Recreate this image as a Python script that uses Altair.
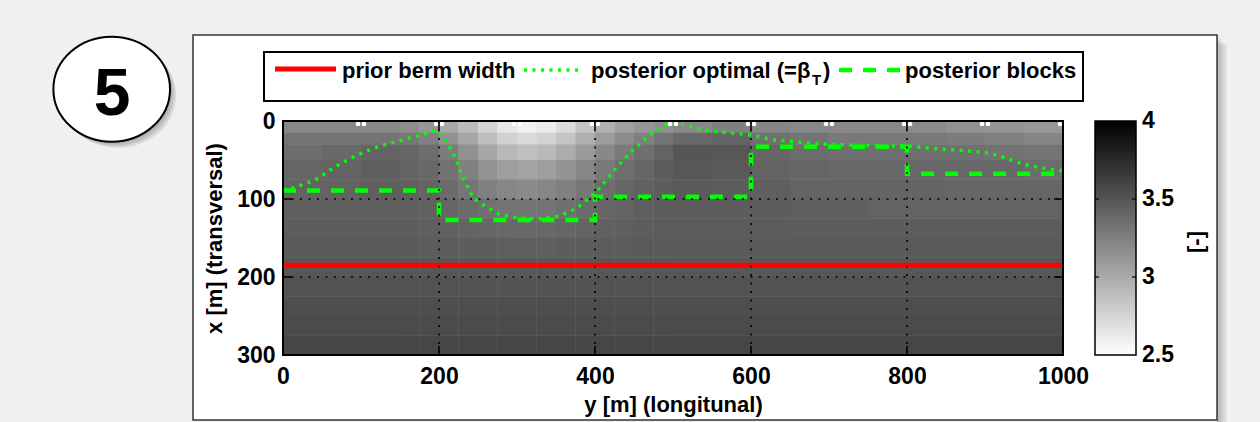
import altair as alt
import pandas as pd

# ---------------- data ----------------
# background field (value in [-]); columns: longitudinal y cells, rows: transversal x cells
y_edges = [0, 50, 100, 150, 175, 200, 225, 250, 275, 300, 325, 350, 375, 400, 425, 450, 475, 500,
           550, 600, 650, 700, 750, 800, 850, 900, 950, 1000]
x_edges = [0, 15, 30, 50, 75, 100, 125, 150, 175, 200, 225, 250, 275, 300]
field_rows = [
    [3.20, 3.20, 3.20, 3.17, 3.12, 3.02, 2.90, 2.76, 2.64, 2.58, 2.62, 2.72, 2.85, 2.97, 3.06, 3.12, 3.16,
     3.20, 3.25, 3.22, 3.20, 3.20, 3.20, 3.18, 3.15, 3.13, 3.11],
    [3.32, 3.32, 3.32, 3.30, 3.25, 3.15, 3.02, 2.88, 2.77, 2.72, 2.76, 2.85, 2.97, 3.08, 3.18, 3.25, 3.32,
     3.39, 3.41, 3.34, 3.32, 3.29, 3.29, 3.29, 3.27, 3.25, 3.22],
    [3.36, 3.38, 3.41, 3.40, 3.36, 3.27, 3.15, 3.02, 2.92, 2.87, 2.91, 2.99, 3.09, 3.20, 3.28, 3.35, 3.42,
     3.50, 3.49, 3.40, 3.36, 3.35, 3.35, 3.35, 3.34, 3.33, 3.32],
    [3.40, 3.41, 3.44, 3.42, 3.39, 3.33, 3.24, 3.14, 3.07, 3.04, 3.07, 3.13, 3.21, 3.29, 3.35, 3.40, 3.45,
     3.49, 3.47, 3.42, 3.40, 3.39, 3.39, 3.39, 3.38, 3.38, 3.36],
    [3.42, 3.42, 3.44, 3.43, 3.41, 3.37, 3.31, 3.25, 3.21, 3.19, 3.21, 3.25, 3.30, 3.36, 3.40, 3.43, 3.45,
     3.47, 3.46, 3.44, 3.42, 3.41, 3.41, 3.41, 3.40, 3.40, 3.40],
    [3.44, 3.44, 3.44, 3.44, 3.43, 3.40, 3.37, 3.34, 3.32, 3.31, 3.32, 3.34, 3.37, 3.40, 3.42, 3.44, 3.45,
     3.46, 3.45, 3.45, 3.44, 3.44, 3.42, 3.42, 3.42, 3.42, 3.42],
    [3.45, 3.45, 3.45, 3.45, 3.44, 3.43, 3.41, 3.40, 3.39, 3.38, 3.39, 3.40, 3.41, 3.43, 3.44, 3.45, 3.46,
     3.46, 3.46, 3.46, 3.45, 3.45, 3.45, 3.45, 3.45, 3.45, 3.45],
    [3.47, 3.47, 3.47, 3.47, 3.46, 3.46, 3.45, 3.45, 3.44, 3.44, 3.44, 3.45, 3.45, 3.46, 3.46, 3.47, 3.47,
     3.47, 3.47, 3.47, 3.47, 3.47, 3.47, 3.47, 3.47, 3.47, 3.47],
    [3.49, 3.49, 3.49, 3.49, 3.49, 3.49, 3.48, 3.48, 3.48, 3.48, 3.48, 3.48, 3.48, 3.49, 3.49, 3.49, 3.49,
     3.49, 3.49, 3.49, 3.49, 3.49, 3.49, 3.49, 3.49, 3.49, 3.49],
    [3.52, 3.52, 3.52, 3.52, 3.52, 3.52, 3.51, 3.51, 3.51, 3.51, 3.51, 3.51, 3.51, 3.52, 3.52, 3.52, 3.52,
     3.52, 3.52, 3.52, 3.52, 3.52, 3.52, 3.52, 3.52, 3.52, 3.52],
    [3.54, 3.54, 3.54, 3.54, 3.54, 3.54, 3.54, 3.54, 3.54, 3.54, 3.54, 3.54, 3.54, 3.54, 3.54, 3.54, 3.54,
     3.54, 3.54, 3.54, 3.54, 3.54, 3.54, 3.54, 3.54, 3.54, 3.54],
    [3.56, 3.56, 3.56, 3.56, 3.56, 3.56, 3.56, 3.56, 3.56, 3.56, 3.56, 3.56, 3.56, 3.56, 3.56, 3.56, 3.56,
     3.56, 3.56, 3.56, 3.56, 3.56, 3.56, 3.56, 3.56, 3.56, 3.56],
    [3.59, 3.59, 3.59, 3.59, 3.59, 3.59, 3.59, 3.59, 3.59, 3.59, 3.59, 3.59, 3.59, 3.59, 3.59, 3.59, 3.59,
     3.59, 3.59, 3.59, 3.59, 3.59, 3.59, 3.59, 3.59, 3.59, 3.59],
]

# prior berm width (red)
prior_y = [0, 1000]
prior_x = [185, 185]

# posterior optimal (green dotted)
opt_y = [0, 9, 41, 68, 94, 124, 158, 188, 199, 209, 220, 231, 244, 259, 278, 299, 324, 355, 376, 393, 406,
         427, 449, 470, 491, 502, 542, 600, 628, 650, 692, 735, 773, 799, 837, 872, 901, 914, 932, 945, 962, 978, 1000]
opt_x = [88, 87, 76, 58, 44, 32, 23, 15, 12, 26, 45, 73, 99, 109, 120, 124, 126, 122, 112, 99, 86,
         60, 37, 18, 5, 2, 12, 18, 24, 26, 29.5, 31, 32, 32, 35.5, 38, 40.5, 43.5, 49.5, 54, 58, 61, 64]

# posterior blocks (green dashed)
blk_y = [0, 200, 200, 400, 400, 600, 600, 800, 800, 1000]
blk_x = [89, 89, 127, 127, 97, 97, 33, 33, 67.5, 67.5]

# white markers along the top edge
marker_y = [100, 200, 300, 400, 500, 600, 700, 800, 900, 1000]

x_ticks = [0, 200, 400, 600, 800, 1000]
y_ticks = [0, 100, 200, 300]
x_grid = [200, 400, 600, 800]
y_grid = [100, 200]
cbar_min, cbar_max = 2.5, 4.0
cbar_ticks = [2.5, 3, 3.5, 4]

# ---------------- tables ----------------
cells = []
for i, row in enumerate(field_rows):
    for j, v in enumerate(row):
        cells.append({"y0": y_edges[j], "y1": y_edges[j + 1],
                      "x0": x_edges[i], "x1": x_edges[i + 1], "v": v})
df_field = pd.DataFrame(cells)
df_prior = pd.DataFrame({"y": prior_y, "x": prior_x})
df_opt = pd.DataFrame({"y": opt_y, "x": opt_x})
df_blk = pd.DataFrame({"y": blk_y, "x": blk_x, "i": list(range(len(blk_y)))})
df_mark = pd.DataFrame({"y": marker_y})
df_xt = pd.DataFrame({"t": x_ticks})
df_yt = pd.DataFrame({"t": y_ticks})
df_xg = pd.DataFrame({"t": x_grid})
df_yg = pd.DataFrame({"t": y_grid})
one = pd.DataFrame({"a": [0]})

F = "Liberation Sans, Arial, Helvetica, sans-serif"
GREEN = "#00ff00"
BG = "#f0f0f0"
W, H = 780, 234
PL, PT, PR, PB = 283, 121, 197, 67

XS = alt.Scale(domain=[0, 1000], nice=False, zero=False)
YS = alt.Scale(domain=[0, 300], reverse=True, nice=False, zero=False)
CS = alt.Scale(domain=[cbar_min, cbar_max], range=["#ffffff", "#000000"], interpolate="rgb")

x_axis = alt.Axis(values=x_ticks, format="d", title="y [m] (longitunal)", labelFont=F, labelFontSize=23,
                  labelFontWeight="bold", labelColor="black", labelPadding=10, ticks=False,
                  domain=False, grid=False, titleFont=F, titleFontSize=22, titleFontWeight="bold",
                  titleColor="black", titlePadding=6, zindex=1, labelFlush=False, labelOverlap=False)
y_axis = alt.Axis(values=y_ticks, format="d", title="x [m] (transversal)", labelFont=F, labelFontSize=23,
                  labelFontWeight="bold", labelColor="black", labelPadding=8, ticks=False,
                  domain=False, grid=False, titleFont=F, titleFontSize=22, titleFontWeight="bold",
                  titleColor="black", titlePadding=10, zindex=1, labelFlush=False, labelOverlap=False)


def XF(f):
    return alt.X(f, scale=XS, axis=x_axis)


def YF(f):
    return alt.Y(f, scale=YS, axis=y_axis)


layers = []

# light-gray surroundings of the white figure panel
for x1, x2, y1, y2 in ((-PL, -90, -PT, H + PB), (-PL, W + PR, -PT, -86),
                       (934, W + PR, -PT, H + PB), (-PL, W + PR, 299, H + PB)):
    layers.append(alt.Chart(one).mark_rect(fill=BG, strokeWidth=0).encode(
        x=alt.value(x1), x2=alt.value(x2), y=alt.value(y1), y2=alt.value(y2)))
# panel shadow (right side)
for k in range(1, 6):
    layers.append(alt.Chart(one).mark_rect(fill="black", opacity=0.05, strokeWidth=0).encode(
        x=alt.value(934), x2=alt.value(934 + 2 * k),
        y=alt.value(-86 + 2 * k), y2=alt.value(H + PB)))
# panel frame
layers.append(alt.Chart(one).mark_rect(fill="transparent", stroke="#333333", strokeWidth=1.5).encode(
    x=alt.value(-90), x2=alt.value(934), y=alt.value(-86), y2=alt.value(299)))

# circle badge "5"
ELL = ("M 1 0 C 1 0.497 0.552 0.9 0 0.9 C -0.552 0.9 -1 0.497 -1 0 "
       "C -1 -0.497 -0.552 -0.9 0 -0.9 C 0.552 -0.9 1 -0.497 1 0 Z")
for k in (6, 4, 2):
    layers.append(alt.Chart(one).mark_point(shape=ELL, filled=True, fill="black", opacity=0.1,
                                            size=13600, strokeWidth=0).encode(
        x=alt.value(-171.3 + k), y=alt.value(-31.8 + k)))
layers.append(alt.Chart(one).mark_point(shape=ELL, filled=True, fill="white", stroke="black",
                                        strokeWidth=2, opacity=1, size=13600).encode(
    x=alt.value(-171.3), y=alt.value(-31.8)))
layers.append(alt.Chart(one).mark_text(font=F, fontSize=66, fontWeight="bold", color="black",
                                       align="center", baseline="alphabetic").encode(
    x=alt.value(-171), y=alt.value(-6), text=alt.value("5")))

# legend box at the top
layers.append(alt.Chart(one).mark_rect(fill="white", stroke="black", strokeWidth=2).encode(
    x=alt.value(-19), x2=alt.value(800), y=alt.value(-69), y2=alt.value(-20)))
layers.append(alt.Chart(one).mark_rule(color="#ff0000", strokeWidth=5).encode(
    x=alt.value(-8), x2=alt.value(53), y=alt.value(-52)))
layers.append(alt.Chart(one).mark_rule(color=GREEN, strokeWidth=3.5, strokeDash=[3, 5.5]).encode(
    x=alt.value(241), x2=alt.value(299), y=alt.value(-51)))
layers.append(alt.Chart(one).mark_rule(color=GREEN, strokeWidth=4.5, strokeDash=[13, 11]).encode(
    x=alt.value(556), x2=alt.value(617), y=alt.value(-51)))
txt = dict(font=F, fontSize=22, fontWeight="bold", color="black", align="left", baseline="alphabetic")
layers.append(alt.Chart(one).mark_text(**txt).encode(
    x=alt.value(59), y=alt.value(-43), text=alt.value("prior berm width")))
layers.append(alt.Chart(one).mark_text(**txt).encode(
    x=alt.value(308), y=alt.value(-43), text=alt.value("posterior optimal (=β")))
layers.append(alt.Chart(one).mark_text(font=F, fontSize=15, fontWeight="bold", color="black",
                                       align="left", baseline="alphabetic").encode(
    x=alt.value(529), y=alt.value(-36), text=alt.value("T")))
layers.append(alt.Chart(one).mark_text(**txt).encode(
    x=alt.value(540), y=alt.value(-43), text=alt.value(")")))
layers.append(alt.Chart(one).mark_text(**txt).encode(
    x=alt.value(622), y=alt.value(-43), text=alt.value("posterior blocks")))

# heatmap (drawn twice to hide anti-aliasing seams between cells)
for _ in range(2):
    layers.append(alt.Chart(df_field).mark_rect(strokeWidth=0).encode(
        x=XF("y0:Q"), x2="y1:Q", y=YF("x0:Q"), y2="x1:Q",
        color=alt.Color("v:Q", scale=CS, legend=None)))

# lines
layers.append(alt.Chart(df_prior).mark_line(color="#ff0000", strokeWidth=5).encode(
    x=XF("y:Q"), y=YF("x:Q")))
layers.append(alt.Chart(df_opt).mark_line(color=GREEN, strokeWidth=3.5, strokeDash=[3, 5.5]).encode(
    x=XF("y:Q"), y=YF("x:Q")))
layers.append(alt.Chart(df_blk).mark_line(color=GREEN, strokeWidth=4.5, strokeDash=[13, 11]).encode(
    x=XF("y:Q"), y=YF("x:Q"), order=alt.Order("i:Q")))

# dotted grid
layers.append(alt.Chart(df_xg).mark_rule(color="black", strokeWidth=1.6, strokeDash=[2, 6.5]).encode(
    x=XF("t:Q"), y=alt.value(0), y2=alt.value(H)))
layers.append(alt.Chart(df_yg).mark_rule(color="black", strokeWidth=1.6, strokeDash=[2, 6.5]).encode(
    y=YF("t:Q"), x=alt.value(0), x2=alt.value(W)))

# white markers on top edge
for off in (-3, 3):
    layers.append(alt.Chart(df_mark).mark_point(shape="circle", filled=True, color="white",
                                                size=22, opacity=1).encode(
        x=XF("y:Q"), y=alt.value(3), xOffset=alt.value(off)))

# inward ticks
for y1, y2 in ((H, H - 9), (0, 9)):
    layers.append(alt.Chart(df_xt).mark_rule(color="black", strokeWidth=1.5).encode(
        x=XF("t:Q"), y=alt.value(y1), y2=alt.value(y2)))
for x1, x2 in ((0, 9), (W, W - 9)):
    layers.append(alt.Chart(df_yt).mark_rule(color="black", strokeWidth=1.5).encode(
        y=YF("t:Q"), x=alt.value(x1), x2=alt.value(x2)))

# plot border
layers.append(alt.Chart(one).mark_rect(fill="transparent", stroke="black", strokeWidth=2).encode(
    x=alt.value(0), x2=alt.value(W), y=alt.value(0), y2=alt.value(H)))

# colorbar
CB_X0, CB_X1 = 812, 853
grad = alt.LinearGradient(gradient="linear",
                          stops=[alt.GradientStop(color="#ffffff", offset=0),
                                 alt.GradientStop(color="#000000", offset=1)],
                          x1=0, x2=0, y1=1, y2=0)
layers.append(alt.Chart(one).mark_rect(color=grad, stroke="black", strokeWidth=1.5).encode(
    x=alt.value(CB_X0), x2=alt.value(CB_X1), y=alt.value(0), y2=alt.value(H)))
for v in cbar_ticks:
    py = H * (cbar_max - v) / (cbar_max - cbar_min)
    layers.append(alt.Chart(one).mark_text(font=F, fontSize=23, fontWeight="bold", color="black",
                                           align="left", baseline="middle").encode(
        x=alt.value(CB_X1 + 6), y=alt.value(py), text=alt.value(f"{v:g}")))
    if cbar_min < v < cbar_max:
        for a, b in ((CB_X0, CB_X0 + 4), (CB_X1, CB_X1 - 4)):
            layers.append(alt.Chart(one).mark_rule(color="black", strokeWidth=1.2).encode(
                x=alt.value(a), x2=alt.value(b), y=alt.value(py)))

# colorbar title
layers.append(alt.Chart(one).mark_text(font=F, fontSize=22, fontWeight="bold", color="black",
                                       align="center", baseline="middle", angle=270).encode(
    x=alt.value(913), y=alt.value(121), text=alt.value("[-]")))

chart = alt.layer(*layers).properties(
    width=W, height=H, autosize="none", background="white",
    padding={"left": PL, "top": PT, "right": PR, "bottom": PB},
).configure_view(stroke=None)

chart.save("out.html", embed_options={"renderer": "svg", "actions": False})
